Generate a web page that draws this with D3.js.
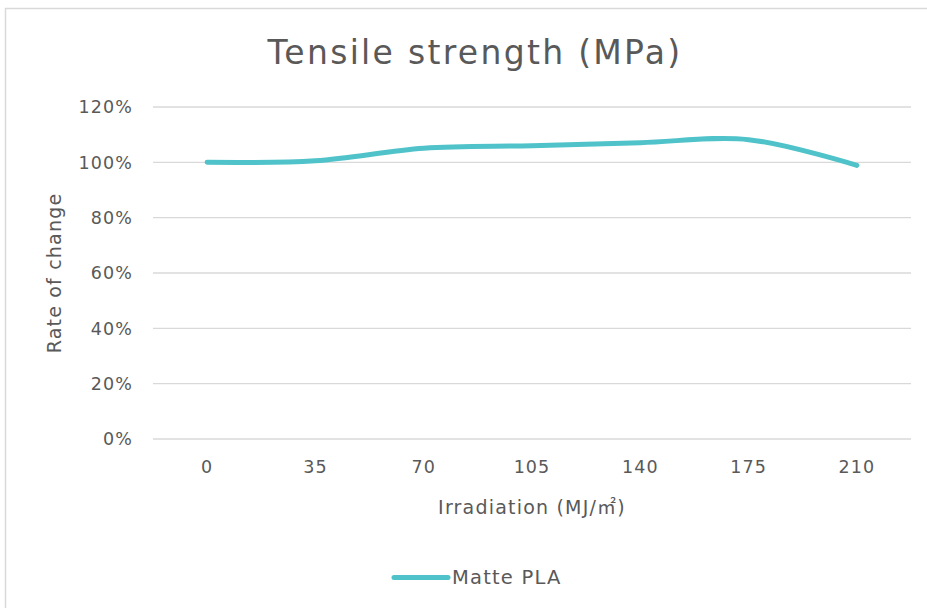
<!DOCTYPE html>
<html>
<head>
<meta charset="utf-8">
<script src="https://cdn.jsdelivr.net/npm/d3@7"></script>
<style>
  body { margin: 0; background: #fff; }
  text { font-family: "DejaVu Sans", sans-serif; fill: #595959; letter-spacing: 1.1px; }
</style>
</head>
<body>
<div id="chart"></div>
<script>
// chart data
const categories = ["0", "35", "70", "105", "140", "175", "210"];
const matteValues = [100, 100.6, 105.1, 106, 107.1, 108.2, 98.9];
const yTicks = [0, 20, 40, 60, 80, 100, 120];
const seriesName = "Matte PLA";

const width = 927, height = 608;
const color = "#4FC3C9";

const svg = d3.select("#chart").append("svg")
  .attr("width", width).attr("height", height);

// chart frame
svg.append("path")
  .attr("d", `M5.5,${height} V8.5 H${width}`)
  .attr("fill", "none")
  .attr("stroke", "#d9d9d9")
  .attr("stroke-width", 1.5);

const x = d3.scaleBand().domain(categories).range([153, 911]);
const y = d3.scaleLinear().domain([0, 120]).range([439, 107]);

// gridlines
svg.append("g").selectAll("line")
  .data(yTicks)
  .enter().append("line")
  .attr("x1", 153).attr("x2", 911)
  .attr("y1", d => y(d)).attr("y2", d => y(d))
  .attr("stroke", "#d9d9d9")
  .attr("stroke-width", 1.3);

// y tick labels
svg.append("g").selectAll("text")
  .data(yTicks)
  .enter().append("text")
  .attr("x", 133)
  .attr("y", d => y(d))
  .attr("dy", "0.36em")
  .attr("text-anchor", "end")
  .attr("font-size", 17.5)
  .text(d => d + "%");

// x tick labels
svg.append("g").selectAll("text")
  .data(categories)
  .enter().append("text")
  .attr("x", d => x(d) + x.bandwidth() / 2)
  .attr("y", 473)
  .attr("text-anchor", "middle")
  .attr("font-size", 17.5)
  .text(d => d);

// the series
const line = d3.line()
  .curve(d3.curveCatmullRom.alpha(0.5))
  .x((d, i) => x(categories[i]) + x.bandwidth() / 2)
  .y(d => y(d));

svg.append("path")
  .datum(matteValues)
  .attr("d", line)
  .attr("fill", "none")
  .attr("stroke", color)
  .attr("stroke-width", 5)
  .attr("stroke-linecap", "round")
  .attr("stroke-linejoin", "round");

// titles
svg.append("text")
  .attr("x", 475).attr("y", 64)
  .attr("text-anchor", "middle")
  .attr("font-size", 33)
  .style("letter-spacing", "2.3px")
  .text("Tensile strength (MPa)");

svg.append("text")
  .attr("transform", "translate(61,273) rotate(-90)")
  .attr("text-anchor", "middle")
  .attr("font-size", 19)
  .style("letter-spacing", "1.2px")
  .text("Rate of change");

const xTitle = svg.append("text")
  .attr("x", 532).attr("y", 514)
  .attr("text-anchor", "middle")
  .attr("font-size", 19)
  .style("letter-spacing", "1.2px")
  .text("Irradiation (MJ/");
xTitle.append("tspan")
  .style("font-family", "'Noto Sans CJK JP', sans-serif")
  .text("㎡");
xTitle.append("tspan").text(")");

// legend
svg.append("line")
  .attr("x1", 394).attr("x2", 448)
  .attr("y1", 577.5).attr("y2", 577.5)
  .attr("stroke", color)
  .attr("stroke-width", 5)
  .attr("stroke-linecap", "round");

svg.append("text")
  .attr("x", 452).attr("y", 584)
  .attr("font-size", 19.5)
  .style("letter-spacing", "1.2px")
  .text(seriesName);
</script>
</body>
</html>
